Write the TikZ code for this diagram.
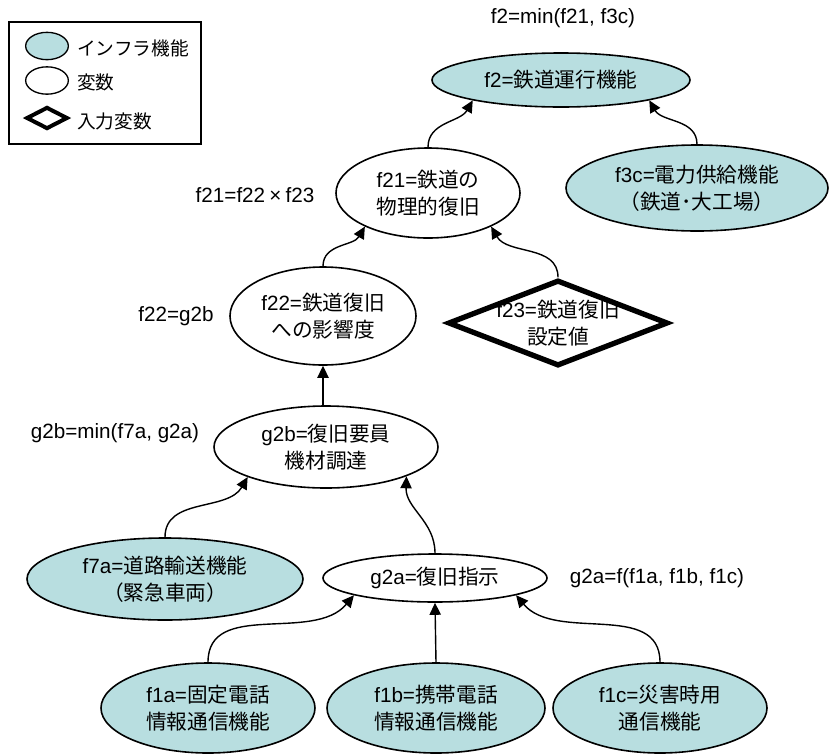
\documentclass[tikz,border=0pt]{standalone}
\usepackage{fontspec}
\setmainfont{Liberation Sans}
\newfontfamily\jp{Noto Sans CJK JP}
\newcommand\J[1]{{\jp #1}}
\usetikzlibrary{arrows.meta,shapes.geometric}
\definecolor{infra}{RGB}{184,222,224}
\tikzset{
  nodefont/.style={font=\fontsize{15.5}{20}\selectfont},
  base/.style={ellipse, draw, line width=1.2pt, inner sep=0pt, align=center, nodefont},
  infra/.style={base, fill=infra},
  var/.style={base, fill=white},
  inputvar/.style={diamond, draw, line width=4pt, line join=miter, inner sep=0pt, fill=white},
  formula/.style={inner sep=0pt, nodefont},
  conn/.style={line width=1.05pt, -{Triangle[length=9pt,width=8.5pt]}},
  legtext/.style={inner sep=0pt, anchor=west, font=\fontsize{14}{17}\selectfont},
}
\begin{document}
\begin{tikzpicture}[x=0.75pt,y=-0.75pt]
\useasboundingbox (0,0) rectangle (829,754);
% legend
\node[draw, line width=1.2pt, minimum width=144pt, minimum height=91.5pt, inner sep=0pt] (legend) at (105,83) {};
\node[base, fill=infra, line width=1pt, minimum width=32pt, minimum height=20.5pt] (lg1) at (47,46) {};
\node[base, line width=1pt, minimum width=32pt, minimum height=20.5pt] (lg2) at (47,80.5) {};
\node[inputvar, line width=3pt, minimum width=31pt, minimum height=16.5pt] (lg3) at (47,118) {};
\node[legtext] (lt1) at (77,48) {\J{インフラ機能}};
\node[legtext] (lt2) at (77,82) {\J{変数}};
\node[legtext] (lt3) at (77,121) {\J{入力変数}};

% nodes
\node[infra, minimum width=193.5pt, minimum height=40.5pt] (f2) at (561,80) {f2=\J{鉄道運行機能}};
\node[infra, minimum width=196.5pt, minimum height=64.5pt] (f3c) at (697,188) {f3c=\J{電力供給機能}\\\J{（鉄道･大工場）}};
\node[var, minimum width=138pt, minimum height=67.5pt] (f21) at (428,193) {f21=\J{鉄道の}\\\J{物理的復旧}};
\node[var, minimum width=139.5pt, minimum height=73.5pt] (f22) at (323,316) {f22=\J{鉄道復旧}\\\J{への影響度}};
\node[inputvar, minimum width=165pt, minimum height=64.5pt] (f23) at (558,323) {};
\node[formula, align=center] (f23txt) at (f23.center) {f23=\J{鉄道復旧}\\\J{設定値}};
\node[var, minimum width=168pt, minimum height=61.5pt] (g2b) at (326,447) {g2b=\J{復旧要員}\\\J{機材調達}};
\node[infra, minimum width=207pt, minimum height=61.5pt] (f7a) at (165,579) {f7a=\J{道路輸送機能}\\\J{（緊急車両）}};
\node[var, minimum width=168pt, minimum height=36pt] (g2a) at (435,578) {g2a=\J{復旧指示}};
\node[infra, minimum width=160.5pt, minimum height=67.5pt] (f1a) at (208,708) {f1a=\J{固定電話}\\\J{情報通信機能}};
\node[infra, minimum width=163.5pt, minimum height=67.5pt] (f1b) at (436,708) {f1b=\J{携帯電話}\\\J{情報通信機能}};
\node[infra, minimum width=160.5pt, minimum height=67.5pt] (f1c) at (660,708) {f1c=\J{災害時用}\\\J{通信機能}};

% formulas
\node[formula] (lf2) at (563,18) {f2=min(f21, f3c)};
\node[formula] (lf21) at (255,195) {f21=f22\hspace{0.2em}×\hspace{0.2em}f23};
\node[formula] (lf22) at (176,316) {f22=g2b};
\node[formula] (lg2b) at (115,433) {g2b=min(f7a, g2a)};
\node[formula] (lg2a) at (657,578) {g2a=f(f1a, f1b, f1c)};

% connectors
\draw[conn] (f1a.north) to[out=90,in=-130] (g2a.192);
\draw[conn] (f1b.north) -- (g2a.south);
\draw[conn] (f1c.north) to[out=90,in=-50] (g2a.-12);
\draw[conn] (g2a.north) to[out=90,in=-92] (g2b.-20);
\draw[conn] (f7a.north) to[out=90,in=-120] (g2b.201);
\draw[conn] (g2b.north -| f22.south) -- (f22.south);
\draw[conn] (f22.north) to[out=90,in=-120] (f21.208);
\draw[conn] (f23.north) to[out=90,in=-60] (f21.-28);
\draw[conn] (f21.north) to[out=90,in=-120] (f2.193);
\draw[conn] (f3c.north) to[out=90,in=-60] (f2.-13);
\end{tikzpicture}
\end{document}
